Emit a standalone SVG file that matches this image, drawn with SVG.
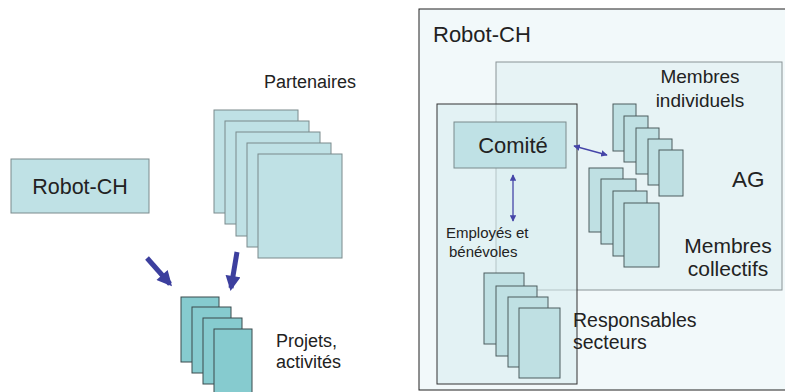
<svg xmlns="http://www.w3.org/2000/svg" width="785" height="392" viewBox="0 0 785 392">
<defs>
<style>
text{font-family:"Liberation Sans",Arial,sans-serif;fill:#222}
.lb{fill:#bfe1e5;stroke:#7a8a8c;stroke-width:1}
.dk{fill:#86cbcf;stroke:#3a4a4c;stroke-width:1}
.st{fill:#bfe0e3;stroke:#4d5c5e;stroke-width:1}
.thick{stroke:#3c3f9e;stroke-width:5;fill:none}
.thin{stroke:#4545a8;stroke-width:1.3;fill:none}
</style>
<marker id="big" viewBox="0 0 10 10" refX="8" refY="5" markerWidth="3.2" markerHeight="3" orient="auto" markerUnits="strokeWidth"><path d="M0,0 L10,5 L0,10 z" fill="#3c3f9e"/></marker>
<marker id="sm" viewBox="0 0 10 10" refX="9" refY="5" markerWidth="5" markerHeight="5" orient="auto-start-reverse" markerUnits="strokeWidth"><path d="M0,0 L10,5 L0,10 z" fill="#4545a8"/></marker>
</defs>
<rect width="785" height="392" fill="#fff"/>

<g id="robot-left">
<rect x="11" y="159" width="138" height="54" class="lb"/>
<text x="80" y="194" font-size="21.5" text-anchor="middle">Robot-CH</text>
</g>

<g id="partenaires">
<text x="310" y="88" font-size="18" text-anchor="middle">Partenaires</text>
<rect x="214" y="110" width="84" height="103" class="lb"/>
<rect x="225" y="121" width="84" height="103" class="lb"/>
<rect x="236" y="132" width="84" height="104" class="lb"/>
<rect x="247" y="143" width="84" height="104" class="lb"/>
<rect x="258" y="154" width="84" height="104" class="lb"/>
</g>

<g id="projets">
<rect x="181" y="297" width="38" height="65" class="dk"/>
<rect x="192" y="307" width="39" height="66" class="dk"/>
<rect x="203" y="318" width="39" height="66" class="dk"/>
<rect x="214" y="329" width="38" height="70" class="dk"/>
<text x="276" y="347" font-size="18">Projets,</text>
<text x="276" y="368" font-size="18">activités</text>
</g>

<g id="robot-right">
<rect x="419" y="9" width="380" height="381" fill="#f2f9fa" stroke="#222" stroke-width="1"/>
<text x="433" y="42" font-size="22">Robot-CH</text>
</g>

<g id="ag">
<rect x="496" y="62" width="286" height="228" fill="#e7f3f5" stroke="#8a9496" stroke-width="1"/>
<text x="700" y="83" font-size="19" text-anchor="middle">Membres</text>
<text x="700" y="107" font-size="19" text-anchor="middle">individuels</text>
<text x="732" y="187" font-size="22.5">AG</text>
<text x="728" y="253" font-size="21" text-anchor="middle">Membres</text>
<text x="728" y="276" font-size="21" text-anchor="middle">collectifs</text>
</g>

<g id="employes">
<rect x="437" y="104" width="140" height="280" fill="#d7ecef" fill-opacity="0.55" stroke="#333" stroke-width="1"/>
<text x="446" y="238" font-size="15">Employés et</text>
<text x="449" y="257" font-size="15">bénévoles</text>
</g>

<g id="comite">
<rect x="454" y="122" width="112" height="46" class="lb" stroke="#6a7a7c"/>
<text x="513" y="153" font-size="22" text-anchor="middle">Comité</text>
</g>

<g id="membres-individuels">
<rect x="613" y="104" width="23" height="47" class="st"/>
<rect x="624" y="116" width="24" height="46" class="st"/>
<rect x="636" y="128" width="23" height="46" class="st"/>
<rect x="648" y="139" width="24" height="46" class="st"/>
<rect x="659" y="150" width="24" height="46" class="st"/>
</g>

<g id="membres-collectifs">
<rect x="589" y="168" width="34" height="64" class="st"/>
<rect x="601" y="179" width="35" height="65" class="st"/>
<rect x="613" y="191" width="34" height="65" class="st"/>
<rect x="624" y="203" width="35" height="64" class="st"/>
</g>

<g id="responsables">
<rect x="484" y="273" width="40" height="71" class="st"/>
<rect x="496" y="286" width="41" height="70" class="st"/>
<rect x="508" y="297" width="40" height="70" class="st"/>
<rect x="519" y="308" width="41" height="70" class="st"/>
<text x="573" y="327" font-size="19.5">Responsables</text>
<text x="573" y="349" font-size="19.5">secteurs</text>
</g>

<g id="connectors">
<line x1="147" y1="258" x2="170" y2="284" class="thick" marker-end="url(#big)"/>
<line x1="237" y1="252" x2="231" y2="288" class="thick" marker-end="url(#big)"/>
<line x1="574" y1="146" x2="607" y2="155" class="thin" marker-start="url(#sm)" marker-end="url(#sm)"/>
<line x1="513" y1="175" x2="513" y2="221" class="thin" marker-start="url(#sm)" marker-end="url(#sm)"/>
</g>
</svg>
